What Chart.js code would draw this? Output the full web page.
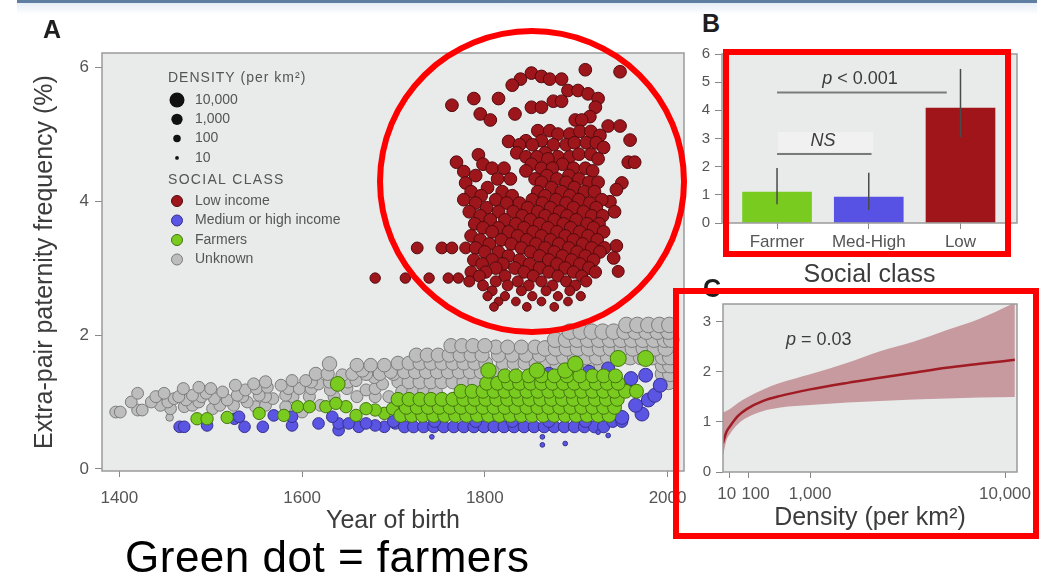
<!DOCTYPE html>
<html>
<head>
<meta charset="utf-8">
<title>Extra-pair paternity</title>
<script src="https://cdn.jsdelivr.net/npm/chart.js@4.4.1/dist/chart.umd.min.js"></script>
<style>
	html, body { margin: 0; padding: 0; background: #fff; }
	body { width: 1048px; height: 577px; position: relative; overflow: hidden;
		font-family: "Liberation Sans", Arial, Helvetica, sans-serif; }
	canvas { position: absolute; }
	#topRule { position: absolute; left: 17px; top: 0; width: 1020px; height: 3px; background: #5f7fa2; }
	#topGlow { position: absolute; left: 17px; top: 3px; width: 1020px; height: 12px;
		background: linear-gradient(#e6eef5, #ffffff); }
	.panel { position: absolute; font-weight: bold; font-size: 25px; line-height: 25px; color: #1e1e1e; }
	#caption { position: absolute; left: 125px; top: 535px; font-size: 44px; line-height: 44px;
		letter-spacing: 0.5px; color: #000; white-space: nowrap; }
	#ring { position: absolute; left: 377px; top: 28px; width: 310px; height: 307px;
		border: 6px solid #ff0000; border-radius: 50%; box-sizing: border-box; }
	.box { position: absolute; border: 6px solid #ff0000; box-sizing: border-box; }
</style>
</head>
<body>
<div id="topRule"></div>
<div id="topGlow"></div>

<canvas id="chartA" width="700" height="545" style="left:0;top:0"></canvas>
<canvas id="chartB" width="368" height="250" style="left:680px;top:40px"></canvas>
<canvas id="chartC" width="368" height="250" style="left:680px;top:290px"></canvas>

<div class="panel" style="left:43px;top:17px">A</div>
<div class="panel" style="left:702px;top:11px">B</div>
<div class="panel" style="left:703px;top:276px">C</div>
<div id="caption">Green dot = farmers</div>

<div id="ring"></div>
<div class="box" style="left:723px;top:49px;width:288px;height:208px"></div>
<div class="box" style="left:673px;top:288px;width:366px;height:251px"></div>

<script>
'use strict';

// ---- Panel A: rows are [pct, density per km2, year, year, ...]
var yearTicks = [1400, 1600, 1800, 2000];
var pctTicks = [0, 2, 4, 6];

var lowIncomeRows = [
	// scattered points above and around the main cloud
	[5.96, 1500, 1910],
	[5.93, 1500, 1948],
	[5.91, 1500, 1851],
	[5.86, 1500, 1862],
	[5.82, 1500, 1839, 1871, 1884],
	[5.73, 1500, 1830],
	[5.65, 1500, 1891, 1902],
	[5.60, 1500, 1913],
	[5.53, 1500, 1788, 1815, 1924],
	[5.49, 1500, 1875, 1884],
	[5.43, 1500, 1764],
	[5.40, 1500, 1851, 1862, 1921],
	[5.30, 1500, 1795, 1833],
	[5.26, 1500, 1915],
	[5.21, 1500, 1806, 1899, 1906],
	[5.12, 1500, 1935, 1948],
	[4.91, 1500, 1959],
	[4.89, 1500, 1826],
	[4.69, 1500, 1793],
	[4.58, 1500, 1769, 1957, 1964],
	[4.44, 1500, 1777],
	[4.27, 1500, 1779, 1950],
	[4.17, 1500, 1944],
	[3.99, 1500, 1937],
	[3.33, 1500, 1944],
	[3.30, 900, 1726, 1753, 1764, 1779],
	[3.15, 1500, 1941],
	[2.95, 1000, 1946],
	[2.85, 400, 1680, 1713, 1739, 1760, 1771],
	// dense core
	[5.05, 1500, 1858, 1871],
	[5.00, 1500, 1880, 1893],
	[5.04, 1500, 1904, 1916],
	[4.98, 1500, 1926],
	[4.90, 1500, 1845, 1862],
	[4.84, 1500, 1838, 1852, 1875, 1889],
	[4.87, 1500, 1898, 1911, 1922],
	[4.80, 1500, 1930],
	[4.72, 1500, 1835, 1866],
	[4.66, 1500, 1845, 1857, 1880, 1893],
	[4.70, 1500, 1903, 1916],
	[4.63, 1500, 1869, 1924],
	[4.55, 1500, 1798, 1851, 1885],
	[4.49, 1500, 1808, 1821, 1862, 1874, 1897, 1910],
	[4.45, 1500, 1845, 1918],
	[4.38, 1500, 1790, 1868, 1892],
	[4.33, 1500, 1814, 1828, 1855, 1879, 1903],
	[4.28, 1500, 1862, 1889, 1914, 1924],
	[4.20, 1500, 1803, 1873, 1898],
	[4.14, 1500, 1785, 1819, 1858, 1884, 1909, 1920],
	[4.08, 1500, 1796, 1830, 1866, 1893],
	[4.02, 1500, 1777, 1812, 1852, 1878, 1903, 1928],
	[3.97, 1500, 1790, 1824, 1838, 1863, 1889, 1915],
	[3.90, 1500, 1802, 1847, 1872, 1897, 1922],
	[3.84, 1500, 1783, 1815, 1831, 1858, 1882, 1908, 1942],
	[3.78, 1500, 1795, 1841, 1866, 1890, 1917, 1929],
	[3.72, 1500, 1806, 1822, 1850, 1876, 1900],
	[3.66, 1500, 1789, 1834, 1860, 1886, 1912, 1925],
	[3.60, 1500, 1798, 1815, 1843, 1869, 1894, 1919],
	[3.54, 1500, 1808, 1826, 1853, 1879, 1904, 1930],
	[3.48, 1500, 1785, 1836, 1862, 1888, 1913],
	[3.42, 1500, 1795, 1818, 1846, 1872, 1897, 1923],
	[3.36, 1500, 1805, 1829, 1856, 1881, 1907],
	[3.30, 1500, 1790, 1840, 1866, 1892, 1917, 1931],
	[3.24, 1500, 1800, 1815, 1850, 1876, 1901, 1926],
	[3.18, 1500, 1826, 1860, 1885, 1910],
	[3.12, 1500, 1788, 1808, 1838, 1870, 1895, 1919],
	[3.06, 1500, 1797, 1820, 1849, 1879, 1904],
	[3.00, 1500, 1812, 1833, 1860, 1888, 1914],
	[2.94, 1200, 1785, 1801, 1843, 1870, 1897, 1921],
	[2.88, 1000, 1794, 1822, 1853, 1880, 1906],
	[2.80, 600, 1783, 1812, 1836, 1862, 1889, 1911],
	[2.74, 500, 1798, 1825, 1848, 1874, 1899],
	[2.66, 300, 1808, 1840, 1867, 1893],
	[2.58, 200, 1803, 1822, 1852, 1880, 1905],
	[2.50, 150, 1815, 1834, 1862, 1891],
	[2.42, 150, 1810, 1846, 1876]
];

var unknownRows = [
	[0.77, 80, 1455],
	[0.85, 900, 1396, 1401, 1600],
	[0.88, 900, 1420, 1425],
	[0.90, 900, 1456, 1502],
	[0.93, 900, 1471, 1549, 1582],
	[0.95, 900, 1445, 1480, 1510, 1525, 1560, 1620],
	[1.00, 900, 1413, 1435, 1453, 1487, 1540],
	[1.03, 900, 1473, 1518],
	[1.05, 900, 1460, 1504, 1568],
	[1.08, 1000, 1440, 1465, 1490, 1535, 1560, 1590, 1608, 1635, 1660, 1680, 1695],
	[1.10, 900, 1480, 1529, 1553, 1582],
	[1.13, 900, 1420, 1449, 1495],
	[1.15, 900, 1513],
	[1.18, 1000, 1538, 1631, 1670],
	[1.20, 1000, 1470, 1500, 1550, 1585, 1597, 1610, 1649, 1680],
	[1.22, 900, 1487, 1562],
	[1.25, 1000, 1527, 1577],
	[1.27, 1000, 1547, 1618, 1688],
	[1.30, 1200, 1560, 1610, 1630, 1650, 1705],
	[1.32, 1000, 1589, 1604, 1659],
	[1.37, 1500, 1679],
	[1.40, 1500, 1644],
	[1.42, 2000, 1615, 1628, 1655, 1670, 1685, 1700],
	[1.45, 2000, 1697],
	[1.47, 2000, 1666],
	[1.55, 2500, 1660, 1675, 1690],
	[1.57, 4000, 1630],
	[1.15, 3000, 1710, 1722, 1734, 1746],
	[1.30, 3000, 1717, 1729, 1741, 1753, 1765, 1777, 1789],
	[1.45, 3000, 1712, 1724, 1736, 1748, 1760, 1772, 1784, 1796, 1808],
	[1.58, 3000, 1705, 1717, 1729, 1741, 1753, 1765, 1777, 1789, 1801, 1820, 1832, 1844, 1856, 1868],
	[1.70, 3500, 1725, 1737, 1749, 1761, 1773, 1785, 1797, 1815, 1830, 1845, 1860],
	[1.82, 3500, 1812, 1825, 1840, 1855],
	[1.84, 4000, 1763, 1775, 1787, 1800],
	[1.30, 8000, 2001],
	[1.42, 8000, 1995, 2003],
	[1.55, 8000, 1880, 1892, 1904, 1916, 1928, 1995, 2003],
	[1.67, 8000, 1875, 1887, 1899, 1911, 1923, 1935, 1947, 1959, 1971, 1983, 1995, 2003],
	[1.80, 8000, 1866, 1878, 1890, 1902, 1914, 1926, 1938, 1950, 1962, 1974, 1986, 1998],
	[1.93, 8000, 1877, 1889, 1901, 1913, 1925, 1937, 1949, 1961, 1973, 1985, 1997, 2004],
	[2.05, 8000, 1893, 1905, 1917, 1929, 1941, 1953, 1965, 1977, 1989, 2001],
	[2.15, 8000, 1955, 1967, 1979, 1991, 2002]
];

var medHighRows = [
	[0.58, 800, 1640],
	[0.63, 800, 1466, 1471, 1537, 1557, 1662, 1690],
	[0.65, 800, 1496, 1589, 1680],
	[0.68, 800, 1618, 1640, 1651, 1670, 1702],
	[0.75, 800, 1526],
	[0.78, 800, 1531, 1589, 1633],
	[0.80, 800, 1569],
	[0.63, 1000, 1712, 1722, 1733, 1744, 1755, 1766, 1777, 1788, 1799, 1810, 1821, 1832, 1843, 1854, 1865, 1876, 1887, 1898, 1909, 1920, 1930],
	[0.71, 1000, 1700, 1745, 1790, 1830, 1870, 1910, 1940, 1950],
	[0.77, 3000, 1950],
	[0.82, 3000, 1972],
	[0.95, 3000, 1965],
	[1.03, 3000, 1979],
	[1.10, 3000, 1986],
	[1.20, 3000, 1955],
	[1.25, 3000, 1992],
	[1.35, 3000, 1960],
	[1.40, 3000, 1976],
	[1.27, 2000, 1812],
	[1.30, 2000, 1830],
	[1.42, 2000, 1870],
	[1.45, 2000, 1914],
	[1.50, 2000, 1935],
	[0.36, 15, 1863],
	[0.38, 15, 1888],
	[0.48, 15, 1742, 1863],
	[0.50, 15, 1935],
	[0.55, 15, 1924]
];

var farmerRows = [
	[0.75, 1200, 1485, 1496],
	[0.77, 1200, 1518],
	[0.80, 1200, 1580, 1659],
	[0.83, 1200, 1553, 1690],
	[0.88, 1200, 1680],
	[0.90, 1200, 1670, 1699],
	[0.93, 1200, 1595, 1608, 1626, 1648],
	[0.98, 1200, 1637],
	[1.27, 5000, 1639],
	[0.80, 3000, 1708, 1720, 1732, 1744, 1756, 1768, 1780, 1792, 1804, 1816, 1828, 1840, 1852, 1864, 1876, 1888, 1900, 1912, 1924, 1936],
	[0.92, 3000, 1714, 1726, 1738, 1750, 1762, 1774, 1786, 1798, 1810, 1822, 1834, 1846, 1858, 1870, 1882, 1894, 1906, 1918, 1930, 1942],
	[1.04, 3000, 1705, 1717, 1729, 1741, 1753, 1765, 1777, 1789, 1801, 1813, 1825, 1837, 1849, 1861, 1873, 1885, 1897, 1909, 1921, 1933, 1945],
	[1.16, 3000, 1774, 1786, 1798, 1810, 1822, 1834, 1846, 1858, 1870, 1882, 1894, 1906, 1918, 1930, 1942, 1954, 1966],
	[1.28, 3000, 1802, 1814, 1826, 1838, 1850, 1862, 1874, 1886, 1898, 1910, 1922, 1934, 1946],
	[1.39, 3000, 1822, 1834, 1848, 1862, 1876, 1890, 1904, 1918, 1930, 1943],
	[1.47, 7000, 1804, 1857, 1888],
	[1.57, 7000, 1899],
	[1.65, 10000, 1946, 1976]
];

var densityKeys = [10000, 1000, 100, 10];
var densityKeyLabels = ['10,000', '1,000', '100', '10'];
var classKeys = ['Low income', 'Medium or high income', 'Farmers', 'Unknown'];

// ---- Panel B
var classNames = ['Farmer', 'Med-High', 'Low'];
var classRate = [1.10, 0.92, 4.08];
var classLow = [0.67, 0.46, 3.05];
var classHigh = [1.95, 1.78, 5.47];
var classColors = ['#79cb20', '#5752e4', '#9f151a'];
var sigBrackets = [
	{ from: 0, to: 1.85, y: 4.63, text: ' < 0.001', italic: 'p', tx: 0.905, ty: 5.11 },
	{ from: 0, to: 1.03, y: 2.45, text: '', italic: 'NS', tx: 0.50, ty: 2.91, box: [0.01, 1.05, 2.52, 3.23] }
];

// ---- Panel C
var densityGrid = [1, 5, 12, 40, 90, 230, 450, 1000, 2000, 3150, 4600, 6300, 8300, 10700];
var fitMean = [0.57, 0.80, 0.91, 1.12, 1.26, 1.42, 1.52, 1.65, 1.78, 1.88, 1.98, 2.08, 2.16, 2.24];
var fitUpper = [1.19, 1.22, 1.26, 1.38, 1.49, 1.65, 1.78, 1.95, 2.18, 2.41, 2.60, 2.83, 3.06, 3.38];
var fitLower = [0.30, 0.63, 0.76, 0.96, 1.09, 1.22, 1.29, 1.34, 1.39, 1.42, 1.45, 1.47, 1.49, 1.50];
var densityTicks = [10, 100, 1000, 10000];
var densityTickLabels = ['10\u00a0', '\u00a0\u00a0\u00a0100', '1,000', '10,000'];
var pNote = { text: ' = 0.03', italic: 'p', x: 1200, y: 2.64 };

Chart.defaults.font.family = '"Liberation Sans", Arial, Helvetica, sans-serif';
Chart.defaults.color = '#555';

var TICK = '#555', TITLE = '#3c3c3c', FRAME = '#9a9a9a', PLOTBG = '#e9eaea';

function radiusFor(d) {
	return 2 * Math.log10(d);
}

function bubblesFrom(rows) {
	var out = [];
	rows.forEach(function (row) {
		for (var i = 2; i < row.length; i++) {
			out.push({ x: row[i], y: row[0], r: radiusFor(row[1]) });
		}
	});
	return out;
}

function fixedTicks(values) {
	return function (axis) {
		axis.ticks = values.map(function (v) { return { value: v }; });
	};
}

// grey plot box with a thin frame, like the original panels
var plotFrame = {
	id: 'plotFrame',
	beforeDraw: function (chart) {
		var a = chart.chartArea, ctx = chart.ctx;
		ctx.save();
		ctx.fillStyle = PLOTBG;
		ctx.fillRect(a.left, a.top, a.right - a.left, a.bottom - a.top);
		ctx.restore();
	},
	afterDraw: function (chart) {
		var a = chart.chartArea, ctx = chart.ctx;
		ctx.save();
		ctx.strokeStyle = FRAME;
		ctx.lineWidth = 1.5;
		ctx.strokeRect(a.left, a.top, a.right - a.left, a.bottom - a.top);
		ctx.restore();
	}
};

// mixed italic / upright label, centred on (x, y)
function noteText(ctx, italic, rest, x, y, size) {
	var fam = '"Liberation Sans", Arial, sans-serif';
	ctx.font = 'italic ' + size + 'px ' + fam;
	var w1 = ctx.measureText(italic).width;
	ctx.font = size + 'px ' + fam;
	var w2 = ctx.measureText(rest).width;
	var x0 = x - (w1 + w2) / 2;
	ctx.textBaseline = 'middle';
	ctx.textAlign = 'left';
	ctx.font = 'italic ' + size + 'px ' + fam;
	ctx.fillText(italic, x0, y);
	ctx.font = size + 'px ' + fam;
	ctx.fillText(rest, x0 + w1, y);
}

var densityKey = {
	id: 'densityKey',
	afterDatasetsDraw: function (chart) {
		var ctx = chart.ctx, a = chart.chartArea;
		var x0 = a.left + 66, cx = a.left + 75, tx = a.left + 93;
		ctx.save();
		ctx.font = '14px "Liberation Sans", Arial, sans-serif';
		ctx.textBaseline = 'middle';
		ctx.fillStyle = '#555';
		ctx.letterSpacing = '1px';
		ctx.fillText('DENSITY (per km\u00b2)', x0, a.top + 25);
		ctx.letterSpacing = '0px';
		densityKeys.forEach(function (d, i) {
			var y = a.top + 47 + i * 19.3;
			ctx.beginPath();
			ctx.arc(cx, y, radiusFor(d) * 0.94, 0, Math.PI * 2);
			ctx.fillStyle = '#111';
			ctx.fill();
			ctx.fillStyle = '#555';
			ctx.fillText(densityKeyLabels[i], tx, y);
		});
		ctx.letterSpacing = '1.3px';
		ctx.fillText('SOCIAL CLASS', x0, a.top + 127);
		ctx.letterSpacing = '0px';
		classKeys.forEach(function (name, i) {
			var ds = chart.data.datasets.filter(function (s) { return s.label === name; })[0];
			var y = a.top + 148 + i * 19.5;
			ctx.beginPath();
			ctx.arc(cx, y, 5.5, 0, Math.PI * 2);
			ctx.fillStyle = ds.backgroundColor;
			ctx.fill();
			ctx.lineWidth = 1;
			ctx.strokeStyle = ds.borderColor;
			ctx.stroke();
			ctx.fillStyle = '#555';
			ctx.fillText(name, tx, y);
		});
		ctx.restore();
	}
};

function bubbleSet(label, rows, fill, edge, order) {
	return {
		label: label,
		data: bubblesFrom(rows),
		backgroundColor: fill,
		borderColor: edge,
		borderWidth: 1,
		hoverRadius: 0,
		order: order
	};
}

new Chart(document.getElementById('chartA'), {
	type: 'bubble',
	data: {
		datasets: [
			bubbleSet('Unknown', unknownRows, '#bdbdbd', '#7c7c7c', 4),
			bubbleSet('Medium or high income', medHighRows, '#5a55e3', '#35308e', 3),
			bubbleSet('Farmers', farmerRows, '#79cb20', '#44740f', 2),
			bubbleSet('Low income', lowIncomeRows, '#9c161c', '#540a0d', 1)
		]
	},
	options: {
		responsive: false,
		animation: false,
		devicePixelRatio: 1,
		events: [],
		layout: { padding: { top: 53, right: 16, left: 0, bottom: 0 } },
		plugins: { legend: { display: false }, tooltip: { enabled: false } },
		scales: {
			x: {
				type: 'linear', min: 1381, max: 2018,
				afterBuildTicks: fixedTicks(yearTicks),
				afterFit: function (axis) { axis.height = 74; },
				grid: { drawOnChartArea: false, tickLength: 6, color: '#888' },
				border: { display: false },
				ticks: {
					font: { size: 17 }, color: TICK, padding: 11, maxRotation: 0, autoSkip: false,
					callback: function (v) { return String(v); }
				},
				title: { display: true, text: 'Year of birth', font: { size: 25 }, color: TITLE, padding: { top: 0, bottom: 9 } }
			},
			y: {
				type: 'linear', min: -0.03, max: 6.21,
				afterBuildTicks: fixedTicks(pctTicks),
				afterFit: function (axis) { axis.width = 102; },
				grid: { drawOnChartArea: false, tickLength: 7, color: '#888' },
				border: { display: false },
				ticks: { font: { size: 17 }, color: TICK, padding: 6 },
				title: { display: true, text: 'Extra-pair paternity frequency (%)', font: { size: 25 }, color: TITLE, padding: { top: 30, bottom: 0 } }
			}
		}
	},
	plugins: [plotFrame, densityKey]
});

// error bars and significance brackets for panel B
var barNotes = {
	id: 'barNotes',
	afterDatasetsDraw: function (chart) {
		var ctx = chart.ctx, x = chart.scales.x, y = chart.scales.y;
		ctx.save();
		ctx.strokeStyle = '#4a4a4a';
		ctx.lineWidth = 1.5;
		classLow.forEach(function (lo, i) {
			var px = x.getPixelForValue(i);
			ctx.beginPath();
			ctx.moveTo(px, y.getPixelForValue(lo));
			ctx.lineTo(px, y.getPixelForValue(classHigh[i]));
			ctx.stroke();
		});
		sigBrackets.forEach(function (b) {
			if (b.box) {
				ctx.fillStyle = '#f1f1f1';
				var bx = x.getPixelForValue(b.box[0]), bx2 = x.getPixelForValue(b.box[1]);
				var by = y.getPixelForValue(b.box[3]), by2 = y.getPixelForValue(b.box[2]);
				ctx.fillRect(bx, by, bx2 - bx, by2 - by);
			}
			ctx.strokeStyle = '#7a7a7a';
			ctx.lineWidth = 2;
			ctx.beginPath();
			ctx.moveTo(x.getPixelForValue(b.from), y.getPixelForValue(b.y));
			ctx.lineTo(x.getPixelForValue(b.to), y.getPixelForValue(b.y));
			ctx.stroke();
			ctx.fillStyle = '#3c3c3c';
			noteText(ctx, b.italic, b.text, x.getPixelForValue(b.tx), y.getPixelForValue(b.ty), 18);
		});
		ctx.restore();
	}
};

new Chart(document.getElementById('chartB'), {
	type: 'bar',
	data: {
		datasets: [{
			data: classRate.map(function (v, i) { return { x: i, y: v }; }),
			backgroundColor: classColors,
			borderWidth: 0,
			barThickness: 69
		}]
	},
	options: {
		responsive: false,
		animation: false,
		devicePixelRatio: 1,
		events: [],
		layout: { padding: { top: 13, right: 31, left: 0, bottom: 0 } },
		plugins: { legend: { display: false }, tooltip: { enabled: false } },
		scales: {
			x: {
				type: 'linear', min: -0.6, max: 2.616, offset: false,
				afterBuildTicks: fixedTicks([0, 1, 2]),
				afterFit: function (axis) { axis.height = 67; },
				grid: { drawOnChartArea: false, tickLength: 6, color: '#888', offset: false },
				border: { display: false },
				ticks: {
					font: { size: 17 }, color: TICK, padding: 3, maxRotation: 0, autoSkip: false,
					callback: function (v) { return classNames[v]; }
				},
				title: { display: true, text: 'Social class', font: { size: 25 }, color: TITLE, padding: { top: 0, bottom: 0 } }
			},
			y: {
				min: 0, max: 6,
				afterBuildTicks: fixedTicks([0, 1, 2, 3, 4, 5, 6]),
				afterFit: function (axis) { axis.width = 42; },
				grid: { drawOnChartArea: false, tickLength: 7, color: '#888' },
				border: { display: false },
				ticks: { font: { size: 15 }, color: TICK, padding: 5 }
			}
		}
	},
	plugins: [plotFrame, barNotes]
});

// panel C: x runs on a square-root density scale
function sqrtPoints(values) {
	return values.map(function (v, i) { return { x: Math.sqrt(densityGrid[i]), y: v }; });
}

var pNoteC = {
	id: 'pNoteC',
	afterDatasetsDraw: function (chart) {
		var ctx = chart.ctx;
		ctx.save();
		ctx.fillStyle = '#3c3c3c';
		noteText(ctx, pNote.italic, pNote.text, chart.scales.x.getPixelForValue(Math.sqrt(pNote.x)),
			chart.scales.y.getPixelForValue(pNote.y), 18);
		ctx.restore();
	}
};

new Chart(document.getElementById('chartC'), {
	type: 'line',
	data: {
		datasets: [
			{ data: sqrtPoints(fitUpper), borderWidth: 0, pointRadius: 0, fill: '+1',
				backgroundColor: '#c69a9e', cubicInterpolationMode: 'monotone', order: 1 },
			{ data: sqrtPoints(fitLower), borderWidth: 0, pointRadius: 0, fill: false,
				cubicInterpolationMode: 'monotone', order: 2 },
			{ data: sqrtPoints(fitMean), borderColor: '#a01b23', borderWidth: 2.5, pointRadius: 0, fill: false,
				cubicInterpolationMode: 'monotone', order: 0 }
		]
	},
	options: {
		responsive: false,
		animation: false,
		devicePixelRatio: 1,
		events: [],
		layout: { padding: { top: 12, right: 31, left: 0, bottom: 0 } },
		plugins: { legend: { display: false }, tooltip: { enabled: false } },
		scales: {
			x: {
				type: 'linear', min: 1.05, max: 104.2,
				afterBuildTicks: fixedTicks(densityTicks.map(Math.sqrt)),
				afterFit: function (axis) { axis.height = 68; },
				grid: { drawOnChartArea: false, tickLength: 6, color: '#888' },
				border: { display: false },
				ticks: {
					font: { size: 17 }, color: TICK, padding: 6, maxRotation: 0, autoSkip: false,
					callback: function (v, i) { return densityTickLabels[i]; }
				},
				title: { display: true, text: 'Density (per km\u00b2)', font: { size: 25 }, color: TITLE, padding: { top: 0, bottom: 7 } }
			},
			y: {
				min: 0, max: 3.355,
				afterBuildTicks: fixedTicks([0, 1, 2, 3]),
				afterFit: function (axis) { axis.width = 43; },
				grid: { drawOnChartArea: false, tickLength: 7, color: '#888' },
				border: { display: false },
				ticks: { font: { size: 15 }, color: TICK, padding: 5 }
			}
		}
	},
	plugins: [plotFrame, pNoteC]
});
</script>
</body>
</html>
